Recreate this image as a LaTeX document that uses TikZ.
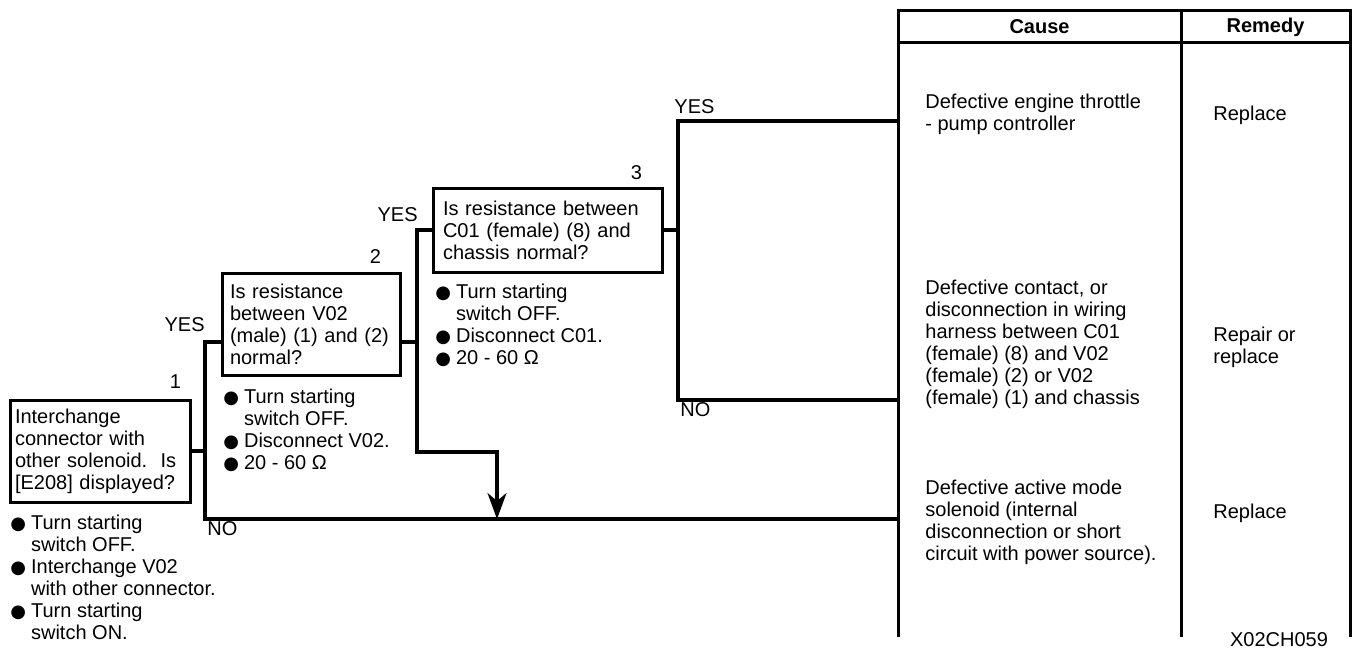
\documentclass[tikz,border=0pt]{standalone}
\usepackage{fontspec}
\setmainfont{Liberation Sans}
\newfontfamily\symfont{DejaVu Sans}
\usetikzlibrary{arrows.meta, positioning, calc}

\newcommand{\bul}{{\symfont\small ●}\hspace{0.25em}}
\newcommand{\hang}{\phantom{\bul}}

\tikzset{
  check/.style={draw, line width=1.5pt, align=left, inner ysep=2pt},
  note/.style={align=left, inner sep=0pt, anchor=north west},
  num/.style={inner sep=0pt, anchor=south east},
  yn/.style={inner sep=1pt},
  flow/.style={line width=1.6pt},
  tabline/.style={line width=1.5pt},
  cell/.style={align=left, inner sep=0pt, anchor=west},
}

\begin{document}
\begin{tikzpicture}[x=0.5pt, y=-0.5pt, font=\fontsize{10}{11}\selectfont]
    \useasboundingbox (0,0) rectangle (1352,650);

    % check boxes
    \node[check, inner xsep=2.5pt, text width=85pt, minimum height=51pt] (q1) at (100,451)
        {Interchange\\connector with\\other solenoid.\ \ Is\\{}[E208] displayed?};
    \node[check, inner xsep=4pt, text width=81pt, minimum height=51pt] (q2) at (311,324)
        {Is resistance\\between V02\\(male) (1) and (2)\\normal?};
    \node[check, inner xsep=5pt, text width=104.5pt, minimum height=42pt] (q3) at (547.5,230)
        {Is resistance between\\C01 (female) (8) and\\chassis normal?};

    \node[num] (k1) at ([xshift=-5pt, yshift=5pt]q1.north east) {1};
    \node[num] (k2) at ([xshift=-10pt, yshift=4pt]q2.north east) {2};
    \node[num] (k3) at ([xshift=-10.5pt, yshift=3pt]q3.north east) {3};

    % conditions below the boxes
    \node[note] (c1) at (10,515) {\bul Turn starting\\\hang switch OFF.\\\bul Interchange V02\\\hang with other connector.\\\bul Turn starting\\\hang switch ON.};
    \node[note] (c2) at (223,389) {\bul Turn starting\\\hang switch OFF.\\\bul Disconnect V02.\\\bul 20 - 60 Ω};
    \node[note] (c3) at (435,284) {\bul Turn starting\\\hang switch OFF.\\\bul Disconnect C01.\\\bul 20 - 60 Ω};

    % table
    \coordinate (tl) at (898,10);
    \coordinate (tr) at (1350,10);
    \coordinate (tm) at (1181,10);
    \draw[tabline] (898,637) -- (tl) -- (tr) -- (1350,637);
    \draw[tabline] (tm) -- (1181,637);
    \draw[tabline] (898,42) -- (1350,42);

    \node[font=\fontsize{10}{11}\selectfont\bfseries] (hc) at (1039.5,27) {Cause};
    \node[font=\fontsize{10}{11}\selectfont\bfseries] (hr) at (1265.5,27) {Remedy};

    \node[cell] (r1) at (925,114) {Defective engine throttle\\- pump controller};
    \node[cell] (m1) at (1213,115) {Replace};
    \node[cell] (r2) at (925,344.5) {Defective contact, or\\disconnection in wiring\\harness between C01\\(female) (8) and V02\\(female) (2) or V02\\(female) (1) and chassis};
    \node[cell] (m2) at (1213,347) {Repair or\\replace};
    \node[cell] (r3) at (925,522) {Defective active mode\\solenoid (internal\\disconnection or short\\circuit with power source).};
    \node[cell] (m3) at (1213,513) {Replace};
    \node (code) at (1279,640) {X02CH059};

    % branches
    \coordinate (y1) at (205,342);
    \coordinate (n1) at (205,519);
    \coordinate (y2) at (417,230);
    \coordinate (d2) at (417,452);
    \coordinate (a2) at (497,452);
    \coordinate (y3) at (678,121);
    \coordinate (n3) at (678,400);

    \draw[flow] (q1.east) -- (q1.east -| y1);
    \draw[flow] ([yshift=-9pt]q2.west) -| (n1) -- (n1 -| tl);
    \draw[flow] ([yshift=-9pt]q2.east) -- ([yshift=-9pt]q2.east -| y2);
    \draw[flow, -{Stealth[length=13pt, width=9.5pt, inset=4pt]}] (q3.west) -| (d2) -- (a2) -- (a2 |- n1);
    \draw[flow] (q3.east) -- (q3.east -| y3);
    \draw[flow] (y3 -| tl) -- (y3) -- (n3) -- (n3 -| tl);

    \node[yn, anchor=south east] (yes1) at ([xshift=1pt, yshift=4pt]y1) {YES};
    \node[yn, anchor=south east] (yes2) at ([xshift=1.5pt, yshift=3pt]y2) {YES};
    \node[yn, anchor=south west] (yes3) at ([xshift=-3pt, yshift=2.5pt]y3) {YES};
    \node[yn, anchor=north west] (no1) at (n1) {NO};
    \node[yn, anchor=north west] (no3) at (n3) {NO};
\end{tikzpicture}
\end{document}
